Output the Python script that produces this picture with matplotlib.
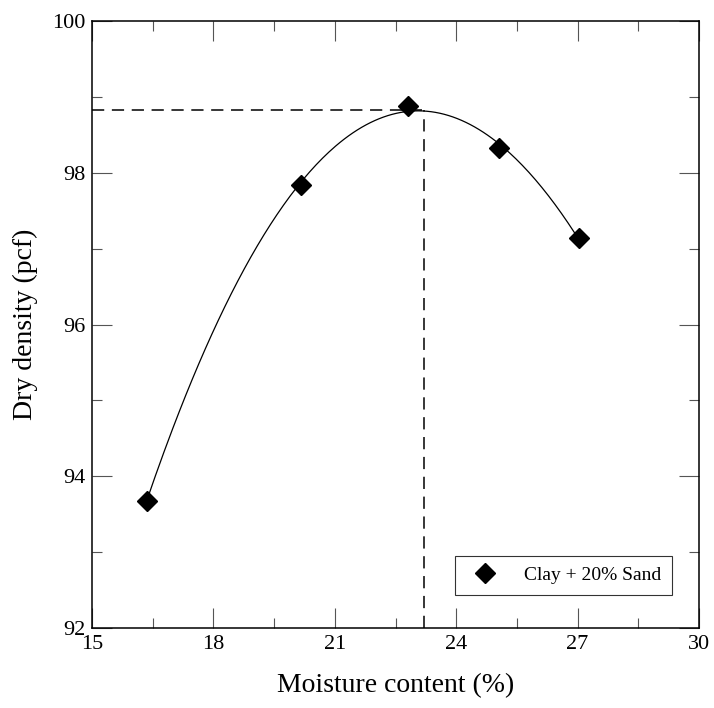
import numpy as np
import matplotlib
matplotlib.use("Agg")
import matplotlib.pyplot as plt
from matplotlib.ticker import MultipleLocator

# measured compaction points
moisture = [16.35, 20.16, 22.8, 25.06, 27.03]
dry_density = [93.68, 97.84, 98.88, 98.32, 97.14]
series_label = "Clay + 20% Sand"

# optimum moisture content / max dry density
omc = 23.2
mdd = 98.83

plt.rcParams["font.family"] = ["Liberation Serif", "DejaVu Serif"]

fig = plt.figure(figsize=(7.14, 7.08), dpi=100)
ax = fig.add_axes([0.1289, 0.113, 0.8501, 0.8573])

# smooth fitted curve through the points
coef = np.polyfit(moisture, dry_density, 3)
xs = np.linspace(min(moisture), max(moisture), 200)
ax.plot(xs, np.polyval(coef, xs), color="black", lw=0.9)

ax.plot(moisture, dry_density, linestyle="none", marker="D", ms=10.5,
        color="black", label=series_label)

# optimum guide lines
ax.plot([15, omc], [mdd, mdd], color="black", lw=1.1, dashes=(8, 5))
ax.plot([omc, omc], [92, mdd], color="black", lw=1.1, dashes=(8, 5))

ax.set_xlim(15, 30)
ax.set_ylim(92, 100)
ax.xaxis.set_major_locator(MultipleLocator(3))
ax.xaxis.set_minor_locator(MultipleLocator(1.5))
ax.yaxis.set_major_locator(MultipleLocator(2))
ax.yaxis.set_minor_locator(MultipleLocator(1))
ax.tick_params(which="both", direction="in", top=True, right=True,
               labelsize=16, width=0.8, color="#555555")
ax.tick_params(which="major", length=14.4, pad=5)
ax.tick_params(which="minor", length=7.2)
for s in ax.spines.values():
    s.set_linewidth(1.1)

ax.set_xlabel("Moisture content (%)", fontsize=20, labelpad=14)
ax.set_ylabel("Dry density (pcf)", fontsize=20, labelpad=10)

leg = ax.legend(loc="lower right", bbox_to_anchor=(0.9555, 0.0544), fontsize=14,
                frameon=True, fancybox=False, edgecolor="black",
                borderpad=0.55, handletextpad=1.0, borderaxespad=0)
leg.get_frame().set_linewidth(0.8)

fig.savefig("out.png", dpi=100)
